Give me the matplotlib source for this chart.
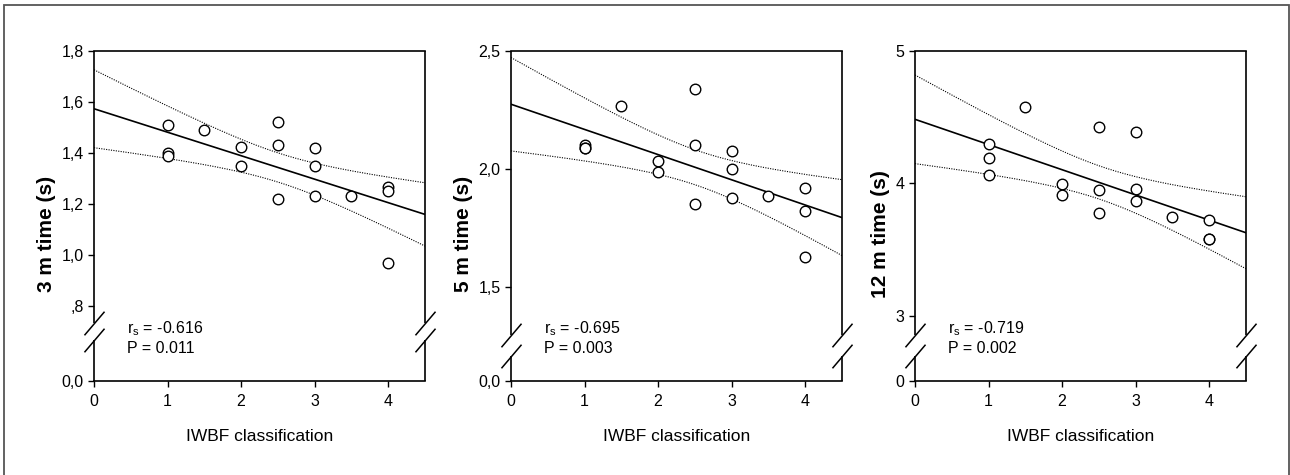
import numpy as np
import matplotlib
matplotlib.use('Agg')
import matplotlib.pyplot as plt
from matplotlib.path import Path
from matplotlib.patches import Rectangle

plt.rcParams['font.family'] = ['Liberation Sans', 'DejaVu Sans']

# --- data (16 players, some circles overlap) ---
cls_3m = [1, 1, 1, 1.5, 2, 2, 2.5, 2.5, 2.5, 3, 3, 3, 3.5, 4, 4, 4]
time_3m = [1.51, 1.40, 1.39, 1.49, 1.425, 1.35, 1.52, 1.43, 1.22,
           1.42, 1.35, 1.23, 1.23, 1.265, 1.25, 0.97]
cls_5m = [1, 1, 1, 1.5, 2, 2, 2.5, 2.5, 2.5, 3, 3, 3, 3.5, 4, 4, 4]
time_5m = [2.10, 2.09, 2.09, 2.265, 2.035, 1.985, 2.34, 2.10, 1.85,
           2.075, 2.00, 1.875, 1.885, 1.92, 1.82, 1.625]
cls_12m = [1, 1, 1, 1.5, 2, 2, 2.5, 2.5, 2.5, 3, 3, 3, 3.5, 4, 4, 4]
time_12m = [4.30, 4.19, 4.065, 4.58, 3.995, 3.91, 4.425, 3.95, 3.78,
            4.39, 3.96, 3.87, 3.745, 3.725, 3.58, 3.58]

ylabels = ['3 m time (s)', '5 m time (s)', '12 m time (s)']
rs_text = ['-0.616', '-0.695', '-0.719']
p_text = ['0.011', '0.003', '0.002']

yticks_3m = [0, 0.8, 1.0, 1.2, 1.4, 1.6, 1.8]
yticklabels_3m = ['0,0', ',8', '1,0', '1,2', '1,4', '1,6', '1,8']
yticks_5m = [0, 1.5, 2.0, 2.5]
yticklabels_5m = ['0,0', '1,5', '2,0', '2,5']
yticks_12m = [0, 3, 4, 5]
yticklabels_12m = ['0', '3', '4', '5']
xticks = [0, 1, 2, 3, 4]

# t(0.975, df) for the 95% band
t975 = {13: 2.1604, 14: 2.1448}

# layout (pixels of a 1290x475 canvas)
W, H = 1290, 475
panels = [
    dict(x=cls_3m, y=time_3m, ticks=yticks_3m, labels=yticklabels_3m,
         left=94, low_frac=0.227, brk=(0.176, 0.124)),
    dict(x=cls_5m, y=time_5m, ticks=yticks_5m, labels=yticklabels_5m,
         left=511, low_frac=0.286, brk=(0.140, 0.076)),
    dict(x=cls_12m, y=time_12m, ticks=yticks_12m, labels=yticklabels_12m,
         left=915, low_frac=0.197, brk=(0.140, 0.076)),
]
ax_w, ax_h, ax_bottom = 331, 330, 94

slash = Path([(-0.85, -1.0), (0.85, 1.0)], [Path.MOVETO, Path.LINETO])


def broken_scale(cut, vb):
    # linear above cut, everything below squeezed between vb and cut
    def fwd(y):
        y = np.asarray(y, dtype=float)
        return np.where(y >= cut, y, vb + y * (cut - vb) / cut)

    def inv(v):
        v = np.asarray(v, dtype=float)
        return np.where(v >= cut, v, (v - vb) * cut / (cut - vb))
    return fwd, inv


fig = plt.figure(figsize=(W / 100, H / 100), dpi=100)

for i, p in enumerate(panels):
    ax = fig.add_axes([p['left'] / W, ax_bottom / H, ax_w / W, ax_h / H])
    top = p['ticks'][-1]
    cut = p['ticks'][1]
    per_frac = (top - cut) / (1 - p['low_frac'])
    vb = cut - p['low_frac'] * per_frac
    ax.set_yscale('function', functions=broken_scale(cut, vb))
    ax.set_ylim(0, top)
    ax.set_xlim(0, 4.5)

    x = np.array(p['x'], dtype=float)
    y = np.array(p['y'], dtype=float)
    n = len(x)
    slope, icpt = np.polyfit(x, y, 1)
    resid = y - (icpt + slope * x)
    s = np.sqrt(np.sum(resid ** 2) / (n - 2))
    sxx = np.sum((x - x.mean()) ** 2)
    xx = np.linspace(0, 4.5, 200)
    yy = icpt + slope * xx
    half = t975[n - 2] * s * np.sqrt(1 / n + (xx - x.mean()) ** 2 / sxx)

    ax.plot(xx, yy, color='black', lw=1.2, zorder=2)
    ax.plot(xx, yy + half, color='black', lw=0.8, ls=(0, (1, 1.2)), zorder=2)
    ax.plot(xx, yy - half, color='black', lw=0.8, ls=(0, (1, 1.2)), zorder=2)
    ax.plot(x, y, 'o', ms=7.6, mfc='white', mec='black', mew=1.0, zorder=3)

    # spines: left/right drawn by hand with a gap at the break
    ax.spines['left'].set_visible(False)
    ax.spines['right'].set_visible(False)
    hi, lo = p['brk']
    for xs in (0, 1):
        ax.plot([xs, xs], [1, hi], color='black', lw=1.2, transform=ax.transAxes,
                clip_on=False, solid_capstyle='butt')
        ax.plot([xs, xs], [lo, 0], color='black', lw=1.2, transform=ax.transAxes,
                clip_on=False, solid_capstyle='butt')
        ax.plot([xs, xs], [hi, lo], ls='none', marker=slash, ms=17, mew=1.1,
                mec='black', transform=ax.transAxes, clip_on=False)
    ax.spines['top'].set_linewidth(1.2)
    ax.spines['bottom'].set_linewidth(1.2)

    ax.set_yticks(p['ticks'])
    ax.set_yticklabels(p['labels'])
    ax.set_xticks(xticks)
    ax.minorticks_off()
    ax.tick_params(direction='out', length=4.5, width=1.0, labelsize=11.5,
                   top=False, right=False)
    ax.tick_params(axis='x', pad=5)
    ax.tick_params(axis='y', pad=3)

    ax.set_xlabel('IWBF classification', fontsize=12.5, labelpad=14)
    ax.set_ylabel(ylabels[i], fontsize=15, fontweight='bold', labelpad=4, y=0.445)

    ax.text(0.10, 0.16, 'r$\\mathregular{_s}$ = ' + rs_text[i], transform=ax.transAxes,
            fontsize=11.5, va='center', ha='left')
    ax.text(0.10, 0.097, 'P = ' + p_text[i], transform=ax.transAxes,
            fontsize=11.5, va='center', ha='left')

# grey frame round the whole figure
fig.patches.append(Rectangle((4 / W, -0.1), (1288.5 - 4) / W, 1.1 - 5 / H,
                             transform=fig.transFigure, fill=False,
                             edgecolor='#555555', lw=1.3))

fig.savefig('out.png', dpi=100)
